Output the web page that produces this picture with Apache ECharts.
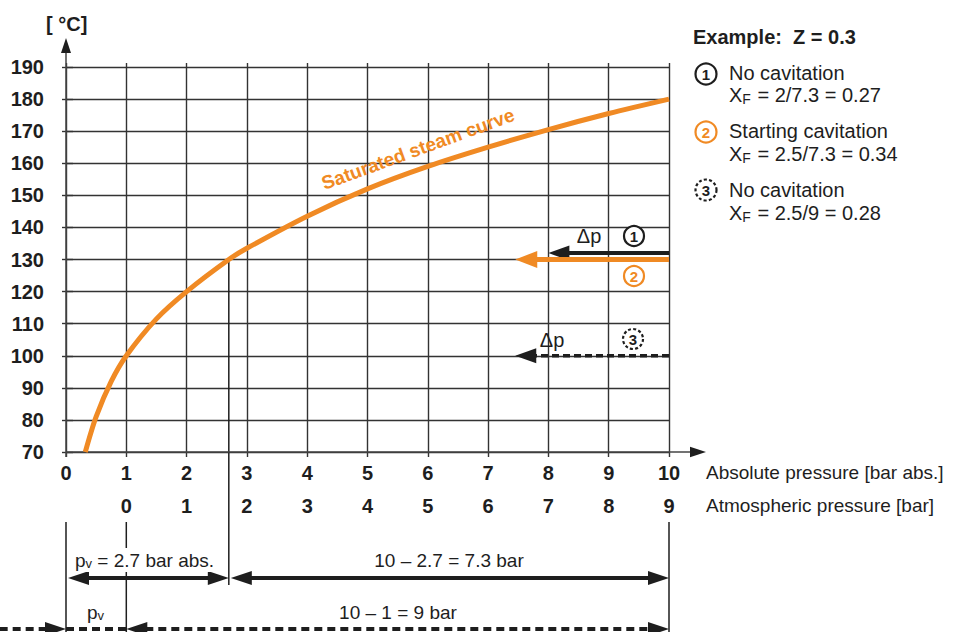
<!DOCTYPE html>
<html>
<head>
<meta charset="utf-8">
<title>Saturated steam curve</title>
<script src="https://cdn.jsdelivr.net/npm/echarts@6/dist/echarts.min.js"></script>
<style>
  html, body { margin: 0; padding: 0; background: #fff; }
  #chart { width: 957px; height: 632px; }
</style>
</head>
<body>
<div id="chart"></div>
<script>
// saturated steam curve: pressure [bar abs.] -> temperature [°C]
const pressureAbs = [0.32, 0.5, 0.75, 1, 1.5, 2, 2.7, 3, 4, 5, 6, 7, 8, 9, 10];
const steamTemp = [70, 81, 92, 100, 111.5, 120, 130, 133.5, 143.5, 152, 159, 165, 170.5, 175.5, 180];

// axes
const tempMin = 70, tempMax = 190, tempStep = 10;
const absLabels = ['0', '1', '2', '3', '4', '5', '6', '7', '8', '9', '10'];
const gaugeLabels = ['', '0', '1', '2', '3', '4', '5', '6', '7', '8', '9'];

// Δp arrows in the plot (start pressure, tip pressure, temperature)
const dpStart = [10, 10, 10];
const dpTip = [8.0, 7.45, 7.45];
const dpTemp = [132, 130, 100];

// dimension arrows under the axis (from, to, row, head at start, head at end)
const dimFrom = [0, 2.7, -1.1, 0, 1];
const dimTo = [2.7, 10, 0, 1, 10];
const dimRow = [0, 0, 1, 1, 1];
const dimHeadFrom = [1, 1, 0, 0, 1];
const dimHeadTo = [1, 1, 1, 0, 1];

// vertical guide lines below the axis, and the pv marker on the curve
const guideP = [0, 1, 10];
const pvP = 2.7, pvTemp = 130;

const ink = '#1e1e1e';
const grey = '#333';
const orange = '#f08a24';
const fam = '"Liberation Sans", Arial, Helvetica, sans-serif';

const chart = echarts.init(document.getElementById('chart'), null, { renderer: 'svg' });

function head(tip, dir, len, half, color) {
  const bx = tip[0] - dir[0] * len, by = tip[1] - dir[1] * len;
  return {
    type: 'polygon',
    shape: { points: [tip, [bx - dir[1] * half, by + dir[0] * half], [bx + dir[1] * half, by - dir[0] * half]] },
    style: { fill: color }
  };
}

const dpStyles = [
  { color: ink, width: 4, dash: null, len: 21, half: 7.5 },
  { color: orange, width: 5, dash: null, len: 22, half: 8.5 },
  { color: ink, width: 3.5, dash: [7, 4], len: 21, half: 7.5 }
];

const rowOffset = [126, 177];   // px below the 70 °C line
const guideTop = 70, guideBottom = 185, pvBottom = 133;

function txt(x, y, text, opt) {
  opt = opt || {};
  return {
    type: 'text', x: x, y: y, rotation: opt.rotation || 0, z: 50,
    style: Object.assign({
      text: text, fill: opt.color || ink, fontFamily: fam,
      fontSize: opt.size || 19, fontWeight: opt.bold ? 'bold' : 'normal',
      align: opt.align || 'left', verticalAlign: 'middle'
    }, opt.extra || {})
  };
}
function ring(cx, cy, r, num, color, dashed) {
  return [
    { type: 'circle', z: 50, shape: { cx: cx, cy: cy, r: r },
      style: { fill: '#fff', stroke: color, lineWidth: 2.2, lineDash: dashed ? [3, 2.2] : null } },
    txt(cx, cy + 0.5, num, { bold: true, size: 15, color: color, align: 'center' })
  ];
}
const subRich = { f: { fontSize: 14, fontFamily: fam, padding: [8, 1, 0, 0] } };
const subV = { v: { fontSize: 13, fontFamily: fam, padding: [7, 0, 0, 0] } };
const graphics = [].concat(
  [txt(46, 24, '[ °C]', { bold: true, size: 20 })],
  [txt(693, 37, 'Example:  Z = 0.3', { bold: true, size: 20 })],
  ring(706, 74, 10.5, '1', ink, false),
  [txt(729, 73, 'No cavitation', { size: 20 }),
   txt(729, 95, 'X{f|F} = 2/7.3 = 0.27', { size: 20, extra: { rich: subRich } })],
  ring(706, 132, 10.5, '2', orange, false),
  [txt(729, 131, 'Starting cavitation', { size: 20 }),
   txt(729, 154, 'X{f|F} = 2.5/7.3 = 0.34', { size: 20, extra: { rich: subRich } })],
  ring(706, 190, 10.5, '3', ink, true),
  [txt(729, 190, 'No cavitation', { size: 20 }),
   txt(729, 213, 'X{f|F} = 2.5/9 = 0.28', { size: 20, extra: { rich: subRich } })],
  [txt(706, 472, 'Absolute pressure [bar abs.]', { size: 19 }),
   txt(706, 505, 'Atmospheric pressure [bar]', { size: 19 })],
  [txt(589, 236, 'Δp', { size: 20, align: 'center' }),
   txt(552, 340, 'Δp', { size: 20, align: 'center' })],
  ring(634, 236, 10, '1', ink, false),
  ring(634, 276, 10, '2', orange, false),
  ring(633, 339, 10, '3', ink, true),
  [txt(418, 149, 'Saturated steam curve', { size: 19, bold: true, color: orange, align: 'center', rotation: 0.35 })],
  [txt(73, 560, 'p{v|v} = 2.7 bar abs.', { size: 19, extra: { backgroundColor: '#fff', padding: [2, 2], rich: subV } }),
   txt(449, 560, '10 – 2.7 = 7.3 bar', { size: 19, align: 'center' }),
   txt(87, 612, 'p{v|v}', { size: 19, extra: { rich: subV } }),
   txt(398, 612, '10 – 1 = 9 bar', { size: 19, align: 'center' })]
);

const option = {
  animation: false,
  backgroundColor: '#fff',
  grid: { left: 66, right: 288, top: 67, bottom: 180 },
  xAxis: [
    {
      type: 'value', min: 0, max: 10, interval: 1, position: 'bottom',
      axisLine: { show: false },
      axisTick: { show: true, inside: false, length: 5, lineStyle: { color: grey, width: 1.4 } },
      axisLabel: { margin: 11, color: ink, fontFamily: fam, fontSize: 20, fontWeight: 'bold',
        formatter: v => absLabels[Math.round(v)] },
      splitLine: { show: true, lineStyle: { color: grey, width: 1.4 } }
    },
    {
      type: 'value', min: 0, max: 10, interval: 1, position: 'bottom', offset: 33,
      axisLine: { show: false }, axisTick: { show: false }, splitLine: { show: false },
      axisLabel: { margin: 11, color: ink, fontFamily: fam, fontSize: 20, fontWeight: 'bold',
        formatter: v => gaugeLabels[Math.round(v)] }
    },
    {
      type: 'value', min: 0, max: 10, interval: 1, position: 'top',
      axisLine: { show: false }, axisLabel: { show: false }, splitLine: { show: false },
      axisTick: { show: true, inside: false, length: 4, lineStyle: { color: grey, width: 1.4 } }
    }
  ],
  yAxis: [
    {
      type: 'value', min: tempMin, max: tempMax, interval: tempStep, position: 'left',
      axisLine: { show: false },
      axisTick: { show: true, inside: false, length: 4, lineStyle: { color: grey, width: 1.4 } },
      axisLabel: { margin: 22, color: ink, fontFamily: fam, fontSize: 20, fontWeight: 'bold' },
      splitLine: { show: true, lineStyle: { color: grey, width: 1.4 } }
    },
    {
      type: 'value', min: tempMin, max: tempMax, interval: tempStep, position: 'right',
      axisLine: { show: false }, axisLabel: { show: false }, splitLine: { show: false },
      axisTick: { show: true, inside: false, length: 7, lineStyle: { color: grey, width: 1.4 } }
    }
  ],
  graphic: graphics,
  series: [
    {
      name: 'Saturated steam curve',
      type: 'line',
      data: pressureAbs.map((p, i) => [p, steamTemp[i]]),
      smooth: 0.3,
      showSymbol: false, z: 5,
      lineStyle: { color: orange, width: 5 }
    },
    {
      // axis lines with arrows
      type: 'custom', z: 4, clip: false, silent: true,
      data: [[0, tempMin]],
      renderItem: function (params, api) {
        const o = api.coord([0, tempMin]);
        const xr = api.coord([10, tempMin])[0] + 37;
        const yt = api.coord([0, tempMax])[1] - 29;
        return { type: 'group', children: [
          { type: 'line', shape: { x1: o[0], y1: o[1], x2: xr - 14, y2: o[1] }, style: { stroke: '#444', lineWidth: 1.5 } },
          head([xr, o[1]], [1, 0], 16, 5.3, ink),
          { type: 'line', shape: { x1: o[0], y1: o[1] + 5, x2: o[0], y2: yt + 13 }, style: { stroke: '#444', lineWidth: 1.5 } },
          head([o[0], yt], [0, -1], 15, 5, ink)
        ] };
      }
    },
    {
      // Δp arrows
      type: 'custom', z: 6, clip: false, silent: true,
      encode: { x: [0, 1], y: 2 },
      data: dpStart.map((s, i) => [s, dpTip[i], dpTemp[i]]),
      renderItem: function (params, api) {
        const st = dpStyles[params.dataIndex];
        const p1 = api.coord([api.value(0), api.value(2)]);
        const p2 = api.coord([api.value(1), api.value(2)]);
        return { type: 'group', children: [
          { type: 'line', shape: { x1: p1[0], y1: p1[1], x2: p2[0] + st.len - 2, y2: p2[1] },
            style: { stroke: st.color, lineWidth: st.width, lineDash: st.dash } },
          head(p2, [-1, 0], st.len, st.half, st.color)
        ] };
      }
    },
    {
      // guide lines below the axis
      type: 'custom', z: 3, clip: false, silent: true,
      encode: { x: 0 },
      data: guideP.map(p => [p]),
      renderItem: function (params, api) {
        const b = api.coord([api.value(0), tempMin]);
        return { type: 'line', shape: { x1: b[0], y1: b[1] + guideTop, x2: b[0], y2: b[1] + guideBottom },
          style: { stroke: ink, lineWidth: 1.5 } };
      }
    },
    {
      // pv marker from the curve down to the dimension line
      type: 'custom', z: 3, clip: false, silent: true,
      encode: { x: 0, y: 1 },
      data: [[pvP, pvTemp]],
      renderItem: function (params, api) {
        const t = api.coord([api.value(0), api.value(1)]);
        const b = api.coord([api.value(0), tempMin]);
        return { type: 'line', shape: { x1: t[0], y1: t[1], x2: t[0], y2: b[1] + pvBottom },
          style: { stroke: ink, lineWidth: 1.5 } };
      }
    },
    {
      // dimension arrows
      type: 'custom', z: 6, clip: false, silent: true,
      encode: { x: [0, 1] },
      data: dimFrom.map((f, i) => [f, dimTo[i], dimRow[i], dimHeadFrom[i], dimHeadTo[i]]),
      renderItem: function (params, api) {
        const row = api.value(2);
        const y = api.coord([0, tempMin])[1] + rowOffset[row];
        const x1 = api.coord([api.value(0), tempMin])[0];
        const x2 = api.coord([api.value(1), tempMin])[0];
        const len = 21, half = 7;
        const hs = api.value(3) === 1, he = api.value(4) === 1;
        const kids = [{ type: 'line',
          shape: { x1: x1 + (hs ? len - 2 : 0), y1: y, x2: x2 - (he ? len - 2 : 0), y2: y },
          style: { stroke: ink, lineWidth: 4, lineDash: row === 1 ? [8, 5] : null } }];
        if (hs) kids.push(head([x1 + (row === 0 ? 2 : 0), y], [-1, 0], len, half, ink));
        if (he) kids.push(head([x2, y], [1, 0], len, half, ink));
        return { type: 'group', children: kids };
      }
    }
  ]
};
chart.setOption(option);
</script>
</body>
</html>
